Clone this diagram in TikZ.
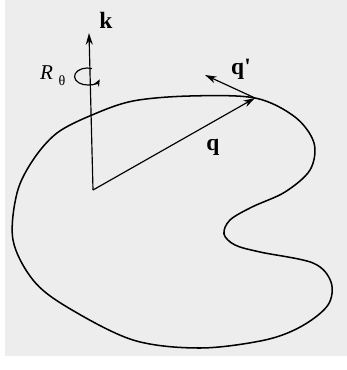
\documentclass[tikz,border=0pt]{standalone}
\usepackage{fontspec}
\setmainfont{Liberation Serif}
\usetikzlibrary{arrows.meta}
\definecolor{paper}{gray}{0.93}

\begin{document}
\begin{tikzpicture}[x=0.03cm, y=-0.03cm,
    vec/.style={-{Stealth[length=10pt,width=6pt]}, line width=1pt},
    lbl/.style={font=\fontsize{20}{24}\selectfont\bfseries, inner sep=0pt}]
    \useasboundingbox (0,0) rectangle (347,370);
    \fill[paper] (5,0) rectangle (347,356);

    % Loop
    \draw[line width=1.3pt] plot[smooth cycle, tension=0.55] coordinates {
        (255,98) (295,117) (314,143) (310,170) (285,192) (252,207)
        (230,220) (224,234) (235,245) (260,252) (313,263) (331,282)
        (328,305) (302,326) (265,340) (200,348) (133,340) (67,307)
        (33,280) (13,240) (17,193) (33,160) (57,133) (92,115)
        (133,101) (190,96)};

    % Vectors
    \coordinate (O) at (93,190);
    \coordinate (ktip) at (89,33);
    \coordinate (P) at (255,98);
    \coordinate (qptip) at (205,75);
    \draw[vec] (O) -- (ktip);
    \draw[vec] (O) -- (P);
    \draw[vec] (P) -- (qptip);

    % Rotation about k
    \draw[line width=1pt, -{Stealth[length=6pt,width=5pt]}] (92,68.5)
        arc[start angle=-70, end angle=-340, x radius=13, y radius=8.5];

    % Labels
    \node[lbl] (k) at (106,20.5) {k};
    \node[lbl] (q) at (213,147) {q};
    \node[lbl] (qp) at (241,69) {q\textquotesingle};
    \node[font=\fontsize{18}{20}\selectfont\itshape, inner sep=0pt] (R) at (46.5,73) {R};
    \node[font=\fontsize{12}{14}\selectfont, inner sep=0pt] (theta) at (62,81) {θ};
\end{tikzpicture}
\end{document}
